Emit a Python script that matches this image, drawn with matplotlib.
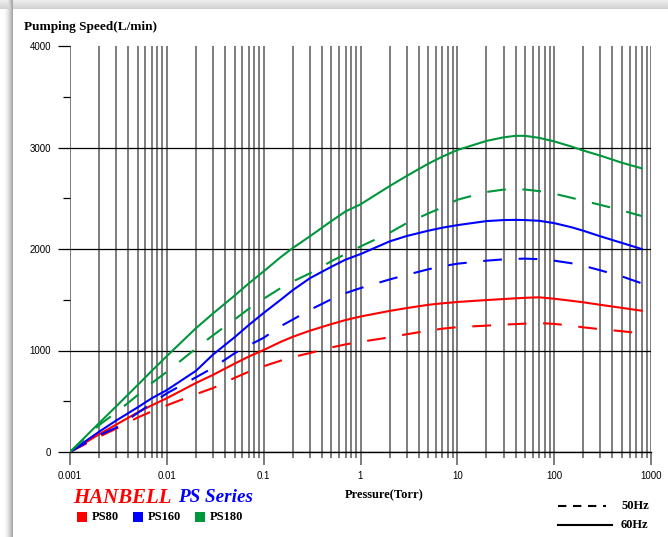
import numpy as np
import matplotlib
matplotlib.use("Agg")
import matplotlib.pyplot as plt
from matplotlib.patches import Rectangle
from matplotlib.lines import Line2D
from matplotlib.ticker import LogLocator, FixedLocator, NullFormatter

# pressure points (Torr)
pressure = [0.001, 0.002, 0.003, 0.005, 0.007, 0.01, 0.02, 0.03, 0.05, 0.07,
            0.1, 0.15, 0.2, 0.3, 0.5, 0.7, 1, 2, 3, 5, 7,
            10, 20, 30, 40, 50, 70, 100, 150, 200, 300, 500, 800]

# pumping speed (L/min), 60Hz solid
ps80_60 = [0, 175, 270, 390, 460, 530, 680, 760, 870, 940,
           1005, 1085, 1135, 1195, 1260, 1300, 1335, 1390, 1418, 1450, 1465,
           1478, 1497, 1507, 1514, 1519, 1524, 1510, 1490, 1475, 1450, 1420, 1392]
ps160_60 = [0, 200, 310, 440, 530, 610, 800, 960, 1130, 1250,
            1370, 1500, 1595, 1712, 1825, 1895, 1950, 2075, 2128, 2180, 2210,
            2235, 2275, 2285, 2287, 2285, 2278, 2255, 2215, 2180, 2125, 2060, 2000]
ps180_60 = [0, 285, 450, 660, 800, 945, 1220, 1365, 1540, 1660,
            1780, 1920, 2010, 2125, 2275, 2370, 2440, 2620, 2720, 2840, 2910,
            2975, 3065, 3100, 3115, 3115, 3095, 3060, 3010, 2970, 2920, 2850, 2795]
# 50Hz dashed
ps80_50 = [0, 150, 230, 340, 400, 460, 570, 630, 730, 790,
           845, 900, 935, 975, 1030, 1060, 1085, 1130, 1160, 1195, 1215,
           1230, 1245, 1255, 1260, 1265, 1270, 1262, 1245, 1228, 1210, 1190, 1169]
ps160_50 = [0, 165, 240, 385, 480, 578, 736, 830, 972, 1050,
            1125, 1240, 1305, 1400, 1505, 1565, 1615, 1700, 1745, 1800, 1830,
            1855, 1885, 1898, 1903, 1905, 1900, 1885, 1860, 1835, 1790, 1730, 1662]
ps180_50 = [0, 265, 390, 560, 680, 790, 1020, 1150, 1305, 1410,
            1510, 1615, 1680, 1760, 1880, 1950, 2025, 2160, 2255, 2350, 2410,
            2485, 2562, 2585, 2592, 2586, 2570, 2545, 2505, 2475, 2435, 2380, 2325]

models = ["PS80", "PS160", "PS180"]
colors = ["#ff0000", "#0000ff", "#00963c"]
x_ticks = [0.001, 0.01, 0.1, 1, 10, 100, 1000]
x_labels = ["0.001", "0.01", "0.1", "1", "10", "100", "1000"]
y_ticks = [0, 1000, 2000, 3000, 4000]

W, H = 668, 537
fig = plt.figure(figsize=(W / 100, H / 100), dpi=100)

# drop shadow along top and left edge of the white panel
bg = fig.add_axes([0, 0, 1, 1], zorder=-10)
img = np.ones((H, W, 3))
xs = np.arange(W)
ys = np.arange(H)
left = np.clip((xs - 2) / 11.0, 0, 1)
left_shade = np.where(xs < 13, 1 - 0.42 * left ** 2, 1.0)
top = np.clip(ys / 9.0, 0, 1)
top_shade = np.where(ys < 9, 0.93 - 0.12 * top, 1.0)
img *= np.minimum(left_shade[None, :], top_shade[:, None])[:, :, None]
bg.imshow(img, aspect="auto", extent=[0, W, H, 0])
bg.axis("off")

ax = fig.add_axes([70 / W, 1 - 452 / H, 581 / W, 406 / H])
ax.set_xscale("log")
ax.set_xlim(0.001, 1000)
ax.set_ylim(0, 4000)

for spine in ["top", "right", "left"]:
    ax.spines[spine].set_visible(False)
ax.spines["bottom"].set_linewidth(1.0)
ax.spines["bottom"].set_zorder(1)

ax.xaxis.set_major_locator(FixedLocator(x_ticks))
ax.set_xticklabels(x_labels)
ax.xaxis.set_minor_locator(LogLocator(base=10, subs=np.arange(2, 10)))
ax.xaxis.set_minor_formatter(NullFormatter())
ax.set_yticks(y_ticks)
ax.set_yticklabels([str(v) for v in y_ticks])
ax.yaxis.set_minor_locator(FixedLocator([500, 1500, 2500, 3500]))

ax.tick_params(axis="x", which="major", length=9.5, width=1.2, color="#666666", pad=4,
               labelsize=7)
ax.tick_params(axis="x", which="minor", length=4.5, width=1.2, color="#666666")
ax.tick_params(axis="y", which="major", length=8.6, width=0.9, color="black", pad=5,
               labelsize=7)
ax.tick_params(axis="y", which="minor", length=5, width=0.9, color="black")
for lab in ax.get_xticklabels() + ax.get_yticklabels():
    lab.set_family("Liberation Sans")

ax.grid(axis="x", which="both", color="#5a5a5a", linewidth=1.1)
ax.grid(axis="y", which="major", color="black", linewidth=0.9)
ax.yaxis.get_gridlines()[-1].set_visible(False)
ax.set_axisbelow(True)

series_60 = [ps80_60, ps160_60, ps180_60]
series_50 = [ps80_50, ps160_50, ps180_50]
for vals, c in zip(series_60, colors):
    ax.plot(pressure, vals, color=c, lw=1.5, solid_joinstyle="round", zorder=3)
for vals, c in zip(series_50, colors):
    ax.plot(pressure, vals, color=c, lw=1.5, dashes=(9, 8), zorder=3)

serif = "Liberation Serif"
fig.text(24 / W, 1 - 27 / H, "Pumping Speed(L/min)", family=serif, weight="bold",
         fontsize=9.5, ha="left", va="center")
fig.text(384 / W, 1 - 495 / H, "Pressure(Torr)", family=serif, weight="bold",
         fontsize=9, ha="center", va="center")

fig.text(73 / W, 1 - 498 / H, "HANBELL", family=serif, weight="bold", style="italic",
         color="#ff0000", fontsize=15, ha="left", va="center")
fig.text(178 / W, 1 - 498 / H, "PS Series", family=serif, weight="bold", style="italic",
         color="#0000ff", fontsize=13.8, ha="left", va="center")

sq_x = [77, 133, 195]
lab_x = [92, 148, 210]
for name, c, sx, lx in zip(models, colors, sq_x, lab_x):
    fig.patches.append(Rectangle((sx / W, 1 - 522 / H), 10 / W, 10 / H, transform=fig.transFigure,
                                 facecolor=c, edgecolor="none"))
    fig.text(lx / W, 1 - 517 / H, name, family=serif, weight="bold", fontsize=9,
             ha="left", va="center")

fig.lines.append(Line2D([558 / W, 606 / W], [1 - 506 / H, 1 - 506 / H], transform=fig.transFigure,
                        color="black", lw=1.5, dashes=(4, 3.2)))
fig.lines.append(Line2D([558 / W, 612 / W], [1 - 525 / H, 1 - 525 / H], transform=fig.transFigure,
                        color="black", lw=1.5))
fig.text(621 / W, 1 - 506 / H, "50Hz", family=serif, weight="bold", fontsize=9,
         ha="left", va="center")
fig.text(621 / W, 1 - 525 / H, "60Hz", family=serif, weight="bold", fontsize=9,
         ha="left", va="center")

fig.savefig("out.png", dpi=100)
